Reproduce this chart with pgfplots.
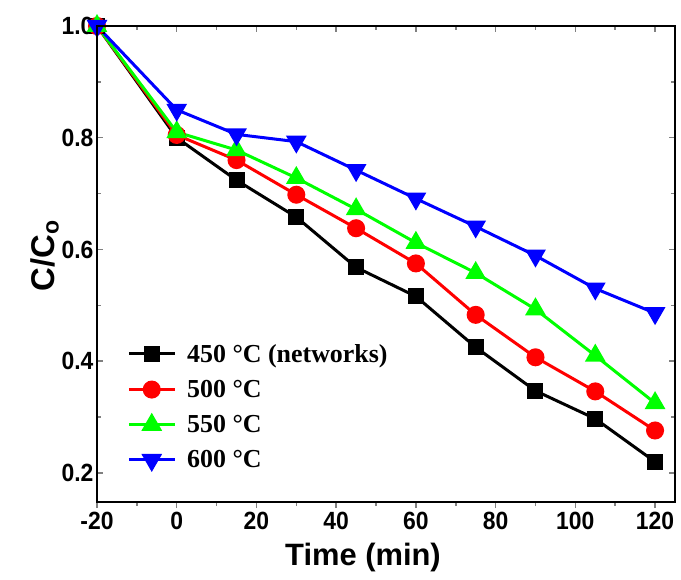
\documentclass[border=0pt]{standalone}
\usepackage{pgfplots}
\pgfplotsset{compat=1.18}
\usepackage{fontspec}
\setmainfont{Liberation Sans}
\newfontfamily\narrowsans{Liberation Sans}[FakeStretch=0.92]
\newfontfamily\timesfont{Liberation Serif}
\usetikzlibrary{calc}
\pgfplotsset{
  common/.style={
    scale only axis,
    width=578bp, height=476bp,
    xmin=-20, xmax=125,
    ymin=0.148, ymax=1.0,
    xtick={-20,0,20,40,60,80,100,120},
    minor x tick num=1,
    ytick={0.2,0.4,0.6,0.8,1.0},
    minor y tick num=1,
    x tick style={line width=1.5bp},
    y tick style={line width=1.5bp},
    major tick length=6bp,
    minor tick length=4bp,
    axis line style={line width=2bp},
  }
}
\begin{document}
\begin{tikzpicture}
\begin{axis}[
  common,
  name=ax,
  xtick pos=bottom,
  ytick pos=both,
  xticklabels={-20,0,20,40,60,80,100,120},
  yticklabels={0.2,0.4,0.6,0.8,1.0},
  xtick align=outside,
  ytick align=inside,
  tick label style={font=\narrowsans\fontsize{25}{28}\selectfont\bfseries},
  xticklabel style={yshift=-1bp},
  xlabel={Time (min)},
  ylabel={C/C\textsubscript{o}},
  label style={font=\fontsize{31}{34}\selectfont\bfseries},
  xlabel style={xshift=-23bp, yshift=-6bp},
  ylabel style={font=\fontsize{33}{36}\selectfont\bfseries, yshift=-4bp, xshift=8bp},
  legend style={draw=none, fill=none, at={(0.052,0.336)}, anchor=north west,
    font=\timesfont\fontsize{26}{29}\selectfont\bfseries,
    row sep=12.5bp, inner sep=0pt,
    /tikz/every odd column/.append style={column sep=9bp}},
  legend cell align=left,
  legend image code/.code={%
    \draw[#1, mark repeat=2, mark phase=2] plot coordinates {(0bp,0bp) (23bp,0bp) (46bp,0bp)};},
  every axis plot/.append style={line width=3bp},
]
\addplot[black, mark=square*, mark size=6.5bp, mark options={solid}] coordinates {
(-20,1.0) (0,0.80) (15,0.724) (30,0.658) (45,0.568) (60,0.516) (75,0.425) (90,0.347) (105,0.297) (120,0.220)};
\addlegendentry{450 °C (networks)}
\addplot[red, mark=*, mark size=7.5bp, mark options={solid}] coordinates {
(-20,1.0) (0,0.805) (15,0.76) (30,0.698) (45,0.638) (60,0.575) (75,0.483) (90,0.407) (105,0.346) (120,0.276)};
\addlegendentry{500 °C}
\addplot[green, mark=triangle*, mark size=9bp, mark options={solid}] coordinates {
(-20,1.0) (0,0.81) (15,0.778) (30,0.728) (45,0.672) (60,0.612) (75,0.558) (90,0.493) (105,0.41) (120,0.325)};
\addlegendentry{550 °C}
\addplot[blue, mark=triangle*, mark size=9bp, mark options={solid, rotate=180}] coordinates {
(-20,1.0) (0,0.85) (15,0.806) (30,0.793) (45,0.742) (60,0.691) (75,0.641) (90,0.589) (105,0.53) (120,0.486)};
\addlegendentry{600 °C}
\end{axis}
\begin{axis}[
  common,
  at={(ax.south west)}, anchor=south west,
  xtick pos=top,
  xtick align=inside,
  xticklabels={},
  ytick=\empty,
  minor y tick num=0,
]
\end{axis}
\pgfresetboundingbox
\path ($(ax.south west)+(-97bp,-78bp)$) rectangle ($(ax.north east)+(6bp,26bp)$);
\end{tikzpicture}
\end{document}
